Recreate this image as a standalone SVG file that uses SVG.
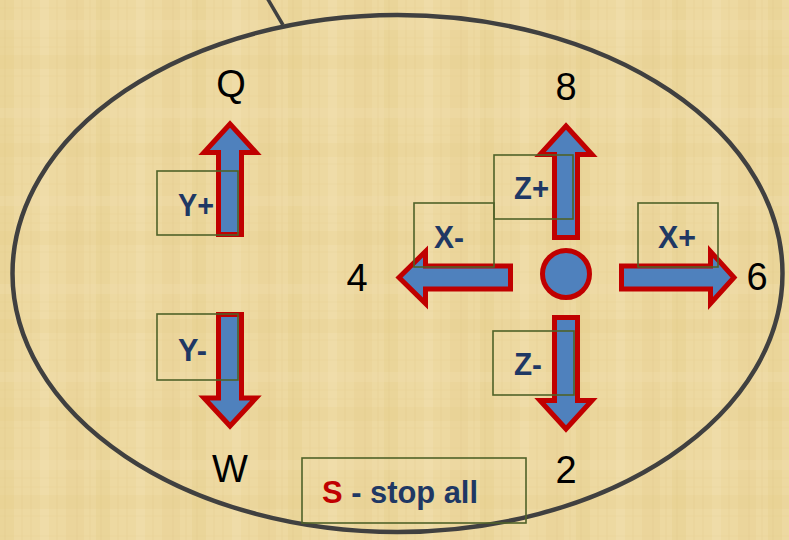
<svg xmlns="http://www.w3.org/2000/svg" width="789" height="540" viewBox="0 0 789 540">
  <defs>
    <pattern id="papyrus" x="0" y="0" width="96" height="88" patternUnits="userSpaceOnUse">
      <rect width="96" height="88" fill="#edd9a1"/>
      <rect x="0" y="0" width="14" height="88" fill="#e6cd8a" opacity="0.3"/>
      <rect x="40" y="0" width="9" height="88" fill="#f3e2b4" opacity="0.35"/>
      <rect x="66" y="0" width="18" height="88" fill="#e3ca86" opacity="0.22"/>
      <rect x="0" y="20" width="96" height="10" fill="#f2e0b0" opacity="0.3"/>
      <rect x="0" y="55" width="96" height="14" fill="#e4cb88" opacity="0.22"/>
      <path d="M5 0V88M22 0V88M31 0V88M57 0V88M77 0V88M90 0V88" stroke="#d9bf7c" stroke-width="0.6" opacity="0.35"/>
      <path d="M0 8H96M0 38H96M0 47H96M0 76H96" stroke="#dcc283" stroke-width="0.6" opacity="0.3"/>
    </pattern>
    <style>
      .arrow { fill: #4f81bd; stroke: #c00000; stroke-width: 5; stroke-linejoin: miter; stroke-miterlimit: 10; }
      .box { fill: none; stroke: #4f6228; stroke-width: 1.6; }
      .lbl { font-family: "Liberation Sans", Arial, sans-serif; font-weight: bold; font-size: 31px; fill: #1f3864; }
      .num { font-family: "Liberation Sans", Arial, sans-serif; font-size: 38px; fill: #000000; text-anchor: middle; }
      .outline { fill: none; stroke: #404040; stroke-width: 4.5; }
    </style>
  </defs>

  <rect width="789" height="540" fill="url(#papyrus)"/>

  <g id="connectors">
    <line x1="283" y1="25" x2="266" y2="-4" stroke="#404040" stroke-width="3.5"/>
  </g>

  <g id="panel">
    <ellipse class="outline" cx="397.5" cy="273.5" rx="385" ry="258.5"/>
  </g>

  <g id="yplus">
    <path class="arrow" d="M230,124 L256,152.5 L241.5,152.5 L241.5,234.5 L218.5,234.5 L218.5,152.5 L204,152.5 Z"/>
    <rect class="box" x="157" y="171" width="81" height="64"/>
    <text class="lbl" x="178" y="216" textLength="36" lengthAdjust="spacingAndGlyphs">Y+</text>
    <text class="num" x="231" y="97">Q</text>
  </g>

  <g id="yminus">
    <path class="arrow" d="M218.5,314.5 L241.5,314.5 L241.5,398 L256,398 L230,426 L204,398 L218.5,398 Z"/>
    <rect class="box" x="157" y="314" width="81" height="66"/>
    <text class="lbl" x="178" y="361" textLength="29" lengthAdjust="spacingAndGlyphs">Y-</text>
    <text class="num" x="230" y="482">W</text>
  </g>

  <g id="zplus">
    <path class="arrow" d="M566,126 L592,154.5 L577.5,154.5 L577.5,237.5 L554.5,237.5 L554.5,154.5 L540,154.5 Z"/>
    <rect class="box" x="494" y="155" width="79" height="64"/>
    <text class="lbl" x="514" y="199" textLength="35" lengthAdjust="spacingAndGlyphs">Z+</text>
    <text class="num" x="566" y="100">8</text>
  </g>

  <g id="zminus">
    <path class="arrow" d="M554.5,317.5 L577.5,317.5 L577.5,400.5 L592,400.5 L566,429 L540,400.5 L554.5,400.5 Z"/>
    <rect class="box" x="493" y="331" width="81" height="64"/>
    <text class="lbl" x="514" y="375" textLength="28" lengthAdjust="spacingAndGlyphs">Z-</text>
    <text class="num" x="566" y="483">2</text>
  </g>

  <g id="xminus">
    <path class="arrow" d="M399,277.5 L425.5,251.5 L425.5,266 L510.5,266 L510.5,289 L425.5,289 L425.5,303.5 Z"/>
    <rect class="box" x="414" y="203" width="80" height="64"/>
    <text class="lbl" x="434" y="248" textLength="30" lengthAdjust="spacingAndGlyphs">X-</text>
    <text class="num" x="357" y="291">4</text>
  </g>

  <g id="xplus">
    <path class="arrow" d="M621.5,266 L710.5,266 L710.5,251.5 L734,277.5 L710.5,303.5 L710.5,289 L621.5,289 Z"/>
    <rect class="box" x="638" y="203" width="80" height="64"/>
    <text class="lbl" x="658" y="248" textLength="38" lengthAdjust="spacingAndGlyphs">X+</text>
    <text class="num" x="757" y="290">6</text>
  </g>

  <g id="center">
    <circle cx="566" cy="274" r="23.5" fill="#4f81bd" stroke="#c00000" stroke-width="5"/>
  </g>

  <g id="stop">
    <rect class="box" x="302" y="458" width="224" height="65"/>
    <text class="lbl" x="322" y="503" textLength="156" lengthAdjust="spacingAndGlyphs"><tspan fill="#c00000">S</tspan> - stop all</text>
  </g>
</svg>
